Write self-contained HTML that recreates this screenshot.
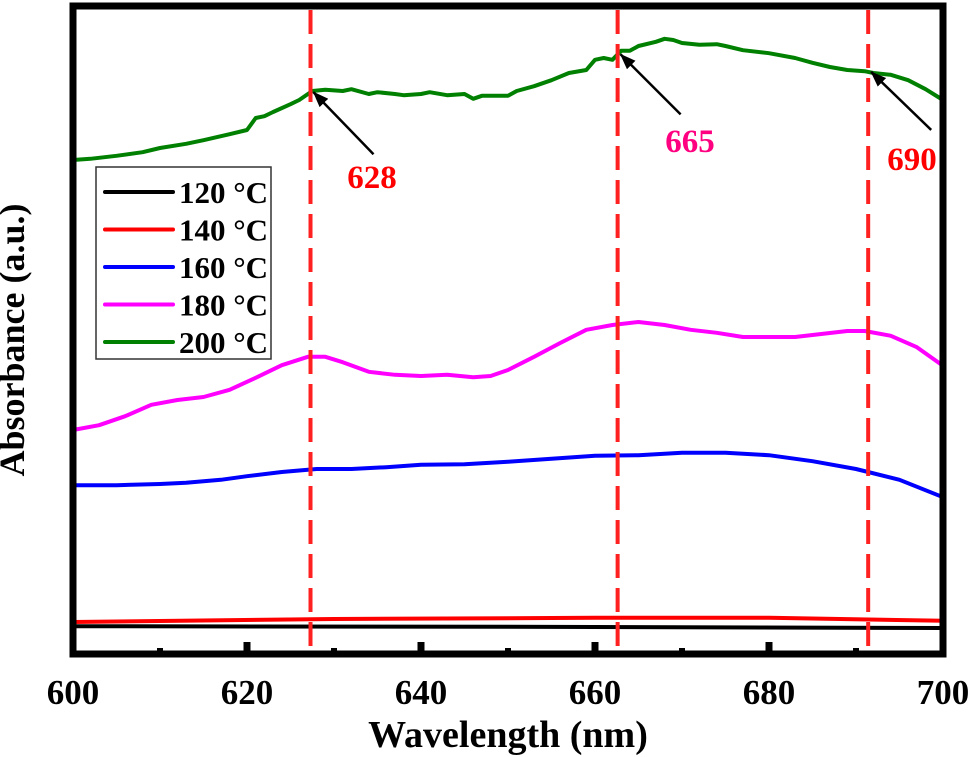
<!DOCTYPE html>
<html><head><meta charset="utf-8"><style>
html,body{margin:0;padding:0;background:#fff;}
svg{display:block;font-family:"Liberation Serif",serif;font-weight:bold;}
</style></head><body>
<svg id="chart" width="975" height="757" viewBox="0 0 975 757">
<defs><marker id="ah" markerWidth="16" markerHeight="12" refX="15" refY="6" orient="auto" markerUnits="userSpaceOnUse" viewBox="0 0 16 12"><path d="M0,0 L16,6 L0,12 z" fill="#000"/></marker></defs>
<g id="series"></g>
<g id="peaks"></g>
<rect x="73" y="6" width="870" height="648" fill="none" stroke="#000" stroke-width="7"/>
<g id="xticks"></g>
<text x="24" y="340" font-size="36" text-anchor="middle" transform="rotate(-90 24 340)">Absorbance (a.u.)</text>
<text x="508" y="747" font-size="38" text-anchor="middle">Wavelength (nm)</text>
<g>
<rect x="96" y="167" width="175" height="192" fill="#fff" stroke="#333" stroke-width="1.5"/>
<g id="legend"></g>
</g>
</svg>
<script>
const wl200=[600,602,605,608,610,613,615,618,620,621,622,623,625,626,627.5,629,631,632,634,635,637,638,640,641,643,645,646,647,650,651,653,655,657,659,660,661,662,663,664,665,667,668,669,670,672,674,675,677,680,683,685,687,689,691,692,694,696,698,700];
const ab200=[0.825,0.827,0.832,0.838,0.845,0.852,0.858,0.868,0.875,0.895,0.898,0.905,0.918,0.925,0.940,0.942,0.940,0.943,0.935,0.938,0.935,0.933,0.935,0.938,0.933,0.935,0.927,0.932,0.932,0.940,0.948,0.958,0.970,0.975,0.992,0.995,0.992,1.007,1.007,1.015,1.022,1.027,1.025,1.020,1.017,1.018,1.015,1.008,1.003,0.995,0.987,0.980,0.975,0.973,0.970,0.967,0.958,0.943,0.925];
const wl180=[600,603,606,609,612,615,618,621,624,627,629,631,634,637,640,643,646,648,650,653,656,659,662,665,668,671,674,677,680,683,686,689,691,694,697,700];
const ab180=[0.375,0.383,0.398,0.417,0.425,0.430,0.442,0.462,0.483,0.497,0.497,0.488,0.472,0.467,0.465,0.467,0.463,0.465,0.475,0.497,0.520,0.542,0.550,0.555,0.550,0.542,0.537,0.530,0.530,0.530,0.535,0.540,0.540,0.532,0.513,0.482];
const wl160=[600,605,610,613,617,620,624,628,632,636,640,645,650,655,660,665,670,675,680,685,690,695,700];
const ab160=[0.283,0.283,0.285,0.287,0.292,0.298,0.305,0.310,0.310,0.313,0.317,0.318,0.322,0.327,0.332,0.333,0.337,0.337,0.333,0.323,0.310,0.292,0.263];
const wl140=[600,630,660,680,700];
const ab140=[0.055,0.060,0.062,0.062,0.057];
const wl120=[600,650,700];
const ab120=[0.048,0.047,0.045];
const seriesNames=["120 °C","140 °C","160 °C","180 °C","200 °C"];
const seriesColors=["#000000","#ff0000","#0000ff","#ff00ff","#008000"];
const xTicks=[600,620,640,660,680,700];
const xMinor=[610,630,650,670,690];
const peakWl=[627.3,662.6,691.4];
const peakLabels=["628","665","690"];
const peakLabelColors=["#ff0000","#ff0080","#ff0000"];

const X=w=>73+(w-600)*8.7;
const Y=a=>655-a*600;
const NS="http://www.w3.org/2000/svg";
function mk(t,attrs,parent){const e=document.createElementNS(NS,t);for(const k in attrs)e.setAttribute(k,attrs[k]);parent.appendChild(e);return e;}
const sg=document.getElementById('series');
const data=[[wl120,ab120],[wl140,ab140],[wl160,ab160],[wl180,ab180],[wl200,ab200]];
data.forEach((d,i)=>{
  const pts=d[0].map((w,j)=>X(w).toFixed(1)+","+Y(d[1][j]).toFixed(1)).join(" ");
  const p=mk('polyline',{points:pts,fill:'none',stroke:seriesColors[i],'stroke-width':4,'stroke-linejoin':'round'},sg);
  
  
});
const pk=document.getElementById('peaks');
const arrowOff=[[60,62,372,188],[60,60,690,152],[60,58,912,170]];
peakWl.forEach((w,i)=>{
  const l=mk('line',{x1:X(w),x2:X(w),y1:10,y2:650,stroke:'#ff2020','stroke-width':4,'stroke-dasharray':'24 10'},pk);
  
  
  let j=0;while(j<wl200.length-1&&wl200[j+1]<w)j++;
  const t=(w-wl200[j])/(wl200[j+1]-wl200[j]);
  const ty=Y(ab200[j]+t*(ab200[j+1]-ab200[j]));
  const tx=X(w)+3;
  const a=mk('line',{x1:tx+arrowOff[i][0],y1:ty+arrowOff[i][1],x2:tx,y2:ty,stroke:'#000','stroke-width':2.5,'marker-end':'url(#ah)'},pk);
  
  
  const tx2=mk('text',{x:arrowOff[i][2],y:arrowOff[i][3],'font-size':33,'text-anchor':'middle',fill:peakLabelColors[i]},pk);
  tx2.textContent=peakLabels[i];
  
  
});
const xg=document.getElementById('xticks');
xTicks.forEach(v=>{
  const t=mk('line',{x1:X(v),x2:X(v),y1:651,y2:642,stroke:'#000','stroke-width':7},xg);
  
  
  const lb=mk('text',{x:X(v),y:704,'font-size':35,'text-anchor':'middle'},xg);
  lb.textContent=v;
  
  
});
xMinor.forEach(v=>{
  const t=mk('line',{x1:X(v),x2:X(v),y1:651,y2:648,stroke:'#000','stroke-width':6},xg);
  
  
});
const lg=document.getElementById('legend');
seriesNames.forEach((n,i)=>{
  const y=192+i*37.5;
  const ln=mk('line',{x1:105,x2:173,y1:y,y2:y,stroke:seriesColors[i],'stroke-width':4,'stroke-linecap':'round'},lg);
  
  
  const tx=mk('text',{x:179,y:y+11,'font-size':31},lg);
  tx.textContent=n;
  
  
});
</script>
</body></html>
